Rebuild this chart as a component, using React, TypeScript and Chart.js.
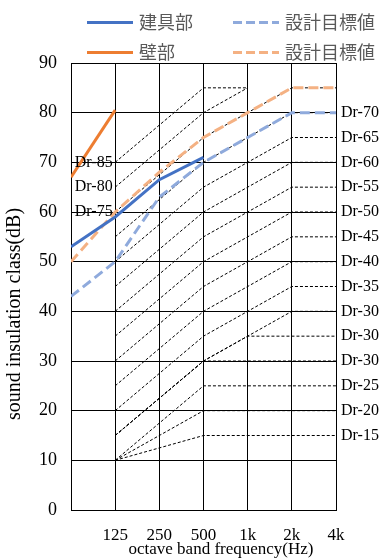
import { useEffect, useRef } from 'react';
import { Chart, registerables } from 'chart.js';

Chart.register(...registerables);

// ---- data ----
const xTickLabels = ['', '125', '250', '500', '1k', '2k', '4k'];
const xPositions = [0, 1, 2, 3, 4, 5, 6];

const seriesNames = ['建具部', '壁部', '設計目標値', '設計目標値'];
const fittingsValues = [53, 59, 66.5, 71, null, null, null];
const wallValues = [67, 80.5, null, null, null, null, null];
const fittingsTarget = [43, 50, 63, 70, 75, 80, 80];
const wallTarget = [50, 60, 68, 75, 80, 85, 85];

// Dr reference curves at 125, 250, 500, 1k, 2k, 4k
const drBandPositions = [1, 2, 3, 4, 5, 6];
const drNames = ['Dr-85', 'Dr-80', 'Dr-75', 'Dr-70', 'Dr-65', 'Dr-60', 'Dr-55', 'Dr-50', 'Dr-45', 'Dr-40', 'Dr-35', 'Dr-30', 'Dr-30', 'Dr-30', 'Dr-25', 'Dr-20', 'Dr-15'];
const drLabelSides = ['left', 'left', 'left', 'right', 'right', 'right', 'right', 'right', 'right', 'right', 'right', 'right', 'right', 'right', 'right', 'right', 'right'];
const drCurves: (number | null)[][] = [
  [70, null, 85, 85, null, null],
  [65, null, 80, 85, null, null],
  [60, null, 75, 80, 85, 85],
  [55, null, 70, 75, 80, 80],
  [50, null, 65, 70, 75, 75],
  [45, null, 60, 65, 70, 70],
  [40, null, 55, 60, 65, 65],
  [35, null, 50, 55, 60, 60],
  [30, null, 45, 50, 55, 55],
  [25, null, 40, 45, 50, 50],
  [20, null, 35, 40, 45, 45],
  [15, null, 30, 35, 40, 40],
  [15, null, 30, 35, 35, 35],
  [15, null, 30, 30, 30, 30],
  [10, null, 25, 25, 25, 25],
  [10, null, 20, 20, 20, 20],
  [10, null, 15, 15, 15, 15],
];

const seriesColors = ['#4472C4', '#ED7D31', '#8FAADC', '#F4B183'];
const seriesDashed = [false, false, true, true];

const SERIF = '"Liberation Serif", "Times New Roman", serif';
const CJK = '"Noto Sans CJK JP", "Noto Sans", sans-serif';

const toPoints = (xs: number[], ys: (number | null)[]) => xs.map((x, i) => ({ x, y: ys[i] }));

export default function App() {
  const ref = useRef<HTMLCanvasElement | null>(null);

  useEffect(() => {
    if (!ref.current) return;
    const mainValues = [fittingsValues, wallValues, fittingsTarget, wallTarget];
    const mainSets = mainValues.map((vals, i) => ({
      label: seriesNames[i],
      data: toPoints(xPositions, vals),
      borderColor: seriesColors[i],
      backgroundColor: seriesColors[i],
      borderWidth: 3,
      borderDash: seriesDashed[i] ? [10, 5] : [],
      pointRadius: 0,
      tension: 0,
      spanGaps: false,
      order: 0,
    }));
    const drSets = drCurves.map((vals, i) => ({
      label: drNames[i],
      data: toPoints(drBandPositions, vals),
      borderColor: '#000',
      borderWidth: 1,
      borderDash: [3, 2],
      pointRadius: 0,
      tension: 0,
      spanGaps: true,
      order: 1,
    }));

    const textPlugin = {
      id: 'drLabels',
      afterDatasetsDraw(chart: any) {
        const { ctx, scales } = chart;
        const xs = scales.x;
        const ys = scales.y;
        ctx.save();
        ctx.font = `16px ${SERIF}`;
        ctx.fillStyle = '#000';
        ctx.textBaseline = 'middle';
        drCurves.forEach((vals, i) => {
          if (drLabelSides[i] === 'left') {
            ctx.textAlign = 'right';
            ctx.fillText(drNames[i], xs.getPixelForValue(drBandPositions[0]) - 2.5, ys.getPixelForValue(vals[0]));
          } else {
            const last = vals[vals.length - 1] as number;
            ctx.textAlign = 'left';
            ctx.fillText(drNames[i], xs.getPixelForValue(drBandPositions[drBandPositions.length - 1]) + 5, ys.getPixelForValue(last));
          }
        });
        // x-axis title
        ctx.font = `17px ${SERIF}`;
        ctx.textAlign = 'center';
        ctx.fillText('octave band frequency(Hz)', 221, 550);
        // y-axis title
        ctx.translate(15, 314);
        ctx.rotate(-Math.PI / 2);
        ctx.font = `20px ${SERIF}`;
        ctx.fillText('sound insulation class(dB)', 0, 0);
        ctx.restore();
      },
    };

    const legendPlugin = {
      id: 'gridLegend',
      afterDraw(chart: any) {
        const { ctx } = chart;
        const cols = [87, 233];
        const rows = [22.5, 52.5];
        const order = [0, 2, 1, 3];
        ctx.save();
        ctx.font = `18px ${CJK}`;
        ctx.textBaseline = 'middle';
        ctx.textAlign = 'left';
        order.forEach((si, k) => {
          const cx = cols[k % 2];
          const cy = rows[Math.floor(k / 2)];
          ctx.beginPath();
          ctx.strokeStyle = seriesColors[si];
          ctx.lineWidth = 3;
          ctx.setLineDash(seriesDashed[si] ? [9, 4] : []);
          ctx.moveTo(cx, cy);
          ctx.lineTo(cx + 46, cy);
          ctx.stroke();
          ctx.setLineDash([]);
          ctx.fillStyle = '#595959';
          ctx.fillText(seriesNames[si], cx + 52, cy);
        });
        ctx.restore();
      },
    };

    const chart = new Chart(ref.current, {
      type: 'line',
      data: { datasets: [...mainSets, ...drSets] as any },
      options: {
        animation: false,
        responsive: false,
        devicePixelRatio: 1,
        layout: { padding: { left: 0, right: 43, top: 63, bottom: 0 } },
        plugins: { legend: { display: false }, tooltip: { enabled: false } },
        scales: {
          x: {
            type: 'linear',
            min: 0,
            max: 6,
            afterFit: (s: any) => { s.height = 50; },
            ticks: {
              stepSize: 1,
              autoSkip: false,
              maxRotation: 0,
              padding: 15,
              color: '#000',
              font: { family: SERIF, size: 17 },
              callback: (v: any) => xTickLabels[Number(v)] ?? '',
            },
            grid: { color: '#000', lineWidth: 1, drawTicks: false },
            border: { color: '#000', width: 1 },
          },
          y: {
            min: 0,
            max: 90,
            afterFit: (s: any) => { s.width = 71; },
            ticks: {
              stepSize: 10,
              padding: 14,
              color: '#000',
              font: { family: SERIF, size: 18 },
            },
            grid: { color: '#000', lineWidth: 1, drawTicks: false },
            border: { color: '#000', width: 1 },
          },
        },
      },
      plugins: [textPlugin, legendPlugin],
    } as any);

    return () => chart.destroy();
  }, []);

  return (
    <div style={{ position: 'fixed', left: 0, top: 0, width: 379, height: 560, background: '#fff' }}>
      <canvas ref={ref} width={379} height={560} style={{ display: 'block' }} />
    </div>
  );
}
